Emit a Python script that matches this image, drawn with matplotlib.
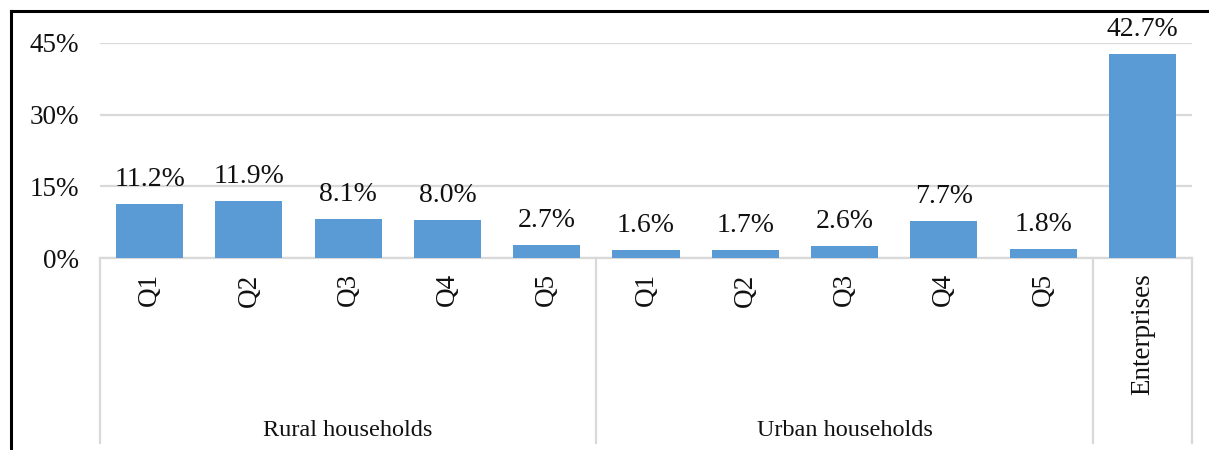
import matplotlib.pyplot as plt
import matplotlib.transforms as mtransforms
from matplotlib.lines import Line2D

# values in percent
quintiles = ["Q1", "Q2", "Q3", "Q4", "Q5"]
rural_values = [11.2, 11.9, 8.1, 8.0, 2.7]
urban_values = [1.6, 1.7, 2.6, 7.7, 1.8]
enterprise_label = "Enterprises"
enterprise_value = 42.7
group_names = ["Rural households", "Urban households"]
y_ticks = [0, 15, 30, 45]

BAR_COLOR = "#5B9BD5"
GRID_COLOR = "#D9D9D9"
TEXT_COLOR = "#111111"

plt.rcParams["font.family"] = ["Liberation Serif", "DejaVu Serif"]

labels = quintiles + quintiles + [enterprise_label]
values = rural_values + urban_values + [enterprise_value]
xs = list(range(len(values)))

fig = plt.figure(figsize=(12.09, 4.5), dpi=100)
ax = fig.add_axes([100 / 1209, (450 - 258) / 450, (1192 - 100) / 1209, (258 - 43) / 450])

ax.bar(xs, values, width=0.675, color=BAR_COLOR, zorder=3)
ax.set_xlim(-0.5, len(values) - 0.5)
ax.set_ylim(0, 45)

# data labels
for x, v in zip(xs, values):
    ax.annotate(f"{v:.1f}%", (x, v), xytext=(0, 13), textcoords="offset points",
                ha="center", va="baseline", fontsize=20, color=TEXT_COLOR,
                annotation_clip=False)

# gridlines and axis look
ax.set_yticks(y_ticks)
ax.set_yticklabels([f"{t}%" for t in y_ticks], fontsize=19.5, color=TEXT_COLOR)
ax.yaxis.grid(True, color=GRID_COLOR, linewidth=1.6, zorder=0)
ax.tick_params(axis="y", length=0, pad=15)
for side in ["top", "right", "left"]:
    ax.spines[side].set_visible(False)
ax.spines["bottom"].set_color(GRID_COLOR)
ax.spines["bottom"].set_linewidth(1.6)

ax.set_xticks(xs)
ax.set_xticklabels(labels, rotation=90, fontsize=19.5, color=TEXT_COLOR, va="top")
ax.tick_params(axis="x", length=0, pad=11)

# group separators below the axis
trans = mtransforms.blended_transform_factory(ax.transData, ax.transAxes)
bottom = -(443 - 258) / (258 - 43)
for sx in [-0.5, 4.5, 9.5, len(values) - 0.5]:
    ax.add_line(Line2D([sx, sx], [0, bottom], transform=trans, color=GRID_COLOR,
                       linewidth=1.6, clip_on=False))

group_y = -(430 - 258) / (258 - 43)
ax.text(2, group_y, group_names[0], transform=trans, ha="center", va="center",
        fontsize=17.5, color=TEXT_COLOR)
ax.text(7, group_y, group_names[1], transform=trans, ha="center", va="center",
        fontsize=17.5, color=TEXT_COLOR)

# outer frame (left and top edges visible)
fig.add_artist(Line2D([11 / 1209, 11 / 1209], [0, 1 - 11 / 450], transform=fig.transFigure,
                      color="black", linewidth=2.2))
fig.add_artist(Line2D([11 / 1209, 1], [1 - 11 / 450, 1 - 11 / 450], transform=fig.transFigure,
                      color="black", linewidth=2.2))

fig.savefig("out.png", dpi=100)
